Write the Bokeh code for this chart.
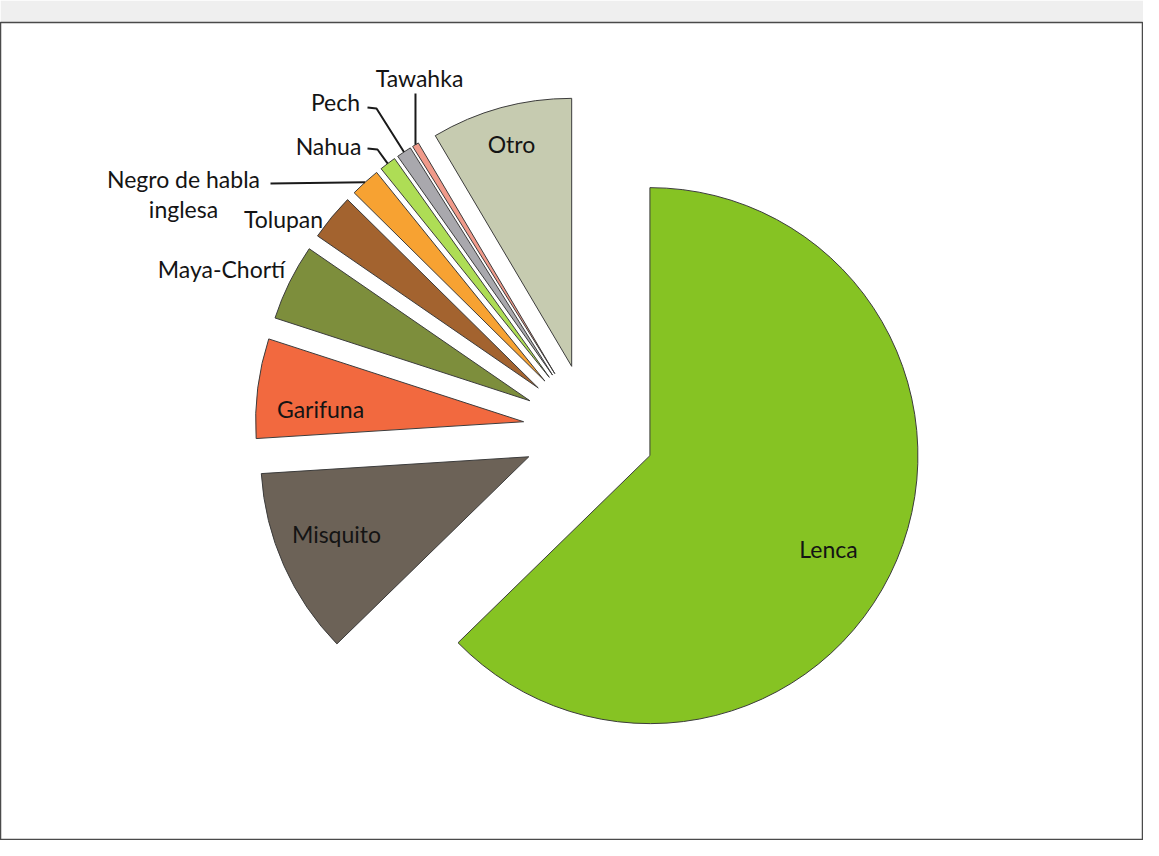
import math
from bokeh.plotting import figure
from bokeh.models import Range1d
from bokeh.core.properties import value
from bokeh.embed import file_html
from bokeh.resources import INLINE

# ---- data (percent of indigenous population) ----
categories = ["Lenca", "Misquito", "Garifuna", "Maya-Chortí", "Tolupan",
              "Negro de habla inglesa", "Nahua", "Pech", "Tawahka", "Otro"]
shares = [62.7, 11.3, 6.0, 4.6, 2.8, 1.8, 1.0, 0.9, 0.4, 8.5]
colors = ["#86c323", "#6c6257", "#f2693f", "#7d8e3c", "#a3632f",
          "#f7a232", "#aedd55", "#a9a8ad", "#f09a8a", "#c6cbb0"]

# ---- layout constants (screen px -> data) ----
W, H = 1143, 840
TOP = 22
def sx(px):
    return px
def sy(py):
    return H - py

CX, CY = sx(588.6), sy(429.5)   # pie centre
R = 268.0                       # radius
EXPLODE = 66.0                  # explosion distance

p = figure(width=W, height=H, output_backend="svg", toolbar_location=None,
           x_range=Range1d(0, W), y_range=Range1d(0, H - TOP),
           min_border_left=0, min_border_right=0, min_border_bottom=0,
           min_border_top=TOP)
p.axis.visible = False
p.grid.visible = False
p.outline_line_color = "#4a4a4a"
p.outline_line_width = 1.5
p.border_fill_color = "#efefef"
p.background_fill_color = "#ffffff"

total = sum(shares)
theta = 0.0
xs, ys, starts, ends, mids = [], [], [], [], []
apex = []
for s in shares:
    span = 360.0 * s / total
    t0, t1 = theta, theta + span
    mid = math.radians((t0 + t1) / 2)
    ax = CX + EXPLODE * math.sin(mid)
    ay = CY + EXPLODE * math.cos(mid)
    xs.append(ax); ys.append(ay)
    starts.append(90 - t1); ends.append(90 - t0)
    mids.append(mid)
    apex.append((ax, ay))
    theta = t1

p.wedge(x=xs, y=ys, radius=R, start_angle=starts, end_angle=ends,
        start_angle_units="deg", end_angle_units="deg",
        fill_color=colors, line_color="#3c3c3c", line_width=1)

def outer(i):
    ax, ay = apex[i]
    return ax + R * math.sin(mids[i]), ay + R * math.cos(mids[i])

# ---- labels (screen positions) ----
label_rows = [
    ("Lenca", 828, 548), ("Misquito", 336, 533), ("Garifuna", 320, 408),
    ("Maya-Chortí", 221, 268), ("Tolupan", 283, 218),
    ("Negro de habla", 183, 178), ("inglesa", 183, 208),
    ("Nahua", 328, 145), ("Pech", 335, 101), ("Tawahka", 419, 77),
    ("Otro", 511, 143),
]
p.text(x=[sx(r[1]) for r in label_rows], y=[sy(r[2]) for r in label_rows],
       text=[r[0] for r in label_rows], text_align="center",
       text_baseline="middle", text_font=value("Lato"),
       text_font_size="23px", text_color="#141414")

# ---- leader lines ----
i_negro = categories.index("Negro de habla inglesa")
i_nahua = categories.index("Nahua")
i_pech = categories.index("Pech")
i_taw = categories.index("Tawahka")
lx, ly = [], []
ox, oy = outer(i_negro)
lx.append([sx(270), ox]); ly.append([sy(183), oy])
ox, oy = outer(i_nahua)
lx.append([sx(367), sx(377), ox]); ly.append([sy(148), sy(149), oy])
ox, oy = outer(i_pech)
lx.append([sx(367), sx(376), ox]); ly.append([sy(107), sy(108), oy])
ox, oy = outer(i_taw)
lx.append([ox, ox]); ly.append([sy(93), oy])
p.multi_line(xs=lx, ys=ly, line_color="#1a1a1a", line_width=2)

open("out.html", "w").write(file_html(p, INLINE))
